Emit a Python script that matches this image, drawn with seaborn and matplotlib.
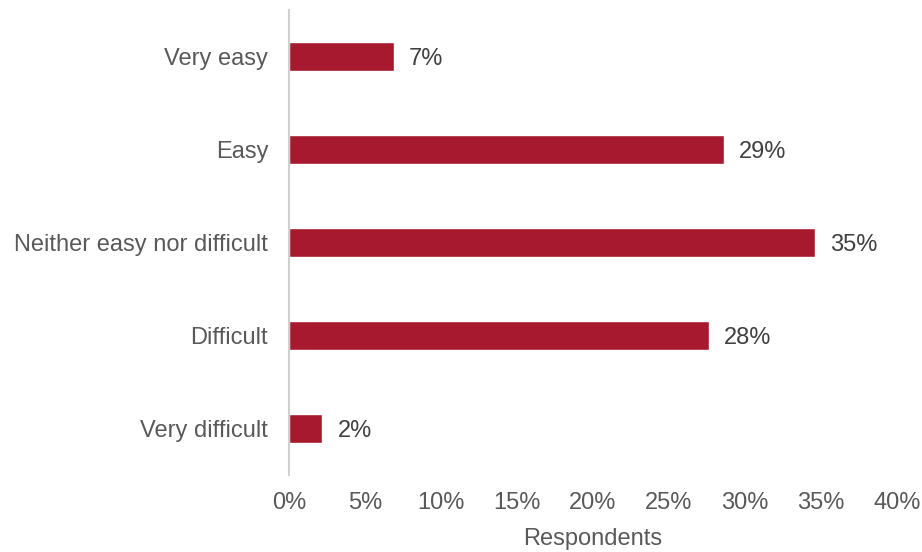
import matplotlib
matplotlib.use('Agg')
import matplotlib.pyplot as plt
import seaborn as sns
import pandas as pd

# survey answers and share of respondents (%)
categories = ['Very easy', 'Easy', 'Neither easy nor difficult', 'Difficult', 'Very difficult']
values = [6.9, 28.6, 34.6, 27.6, 2.2]
labels = ['7%', '29%', '35%', '28%', '2%']
ticks = [0, 5, 10, 15, 20, 25, 30, 35, 40]

df = pd.DataFrame({'category': categories, 'value': values})

sns.set_style('white')
plt.rcParams['font.family'] = ['Liberation Sans', 'DejaVu Sans']

fig = plt.figure(figsize=(9.22, 5.52), dpi=100)
ax = fig.add_axes([289 / 922, 1 - 475 / 552, (897 - 289) / 922, 465 / 552])

sns.barplot(data=df, x='value', y='category', color='#A6192E', width=0.31,
            saturation=1, ax=ax)

for i, (v, lab) in enumerate(zip(values, labels)):
    ax.text(v + 1.0, i, lab, va='center_baseline', ha='left', fontsize=17,
            color='#404040')

ax.set_xlim(0, 40)
ax.set_ylim(4.5, -0.5)
ax.set_xticks(ticks)
ax.set_xticklabels([f'{t}%' for t in ticks])
ax.tick_params(axis='x', labelsize=17, colors='#595959', length=0, pad=12)
ax.tick_params(axis='y', labelsize=17, colors='#595959', length=0, pad=15)
ax.set_ylabel('')
ax.set_xlabel('Respondents', fontsize=17, color='#595959', labelpad=10)

for s in ['top', 'right', 'bottom']:
    ax.spines[s].set_visible(False)
ax.spines['left'].set_color('#D0D0D0')
ax.spines['left'].set_linewidth(1.5)

plt.savefig('out.png', dpi=100)
